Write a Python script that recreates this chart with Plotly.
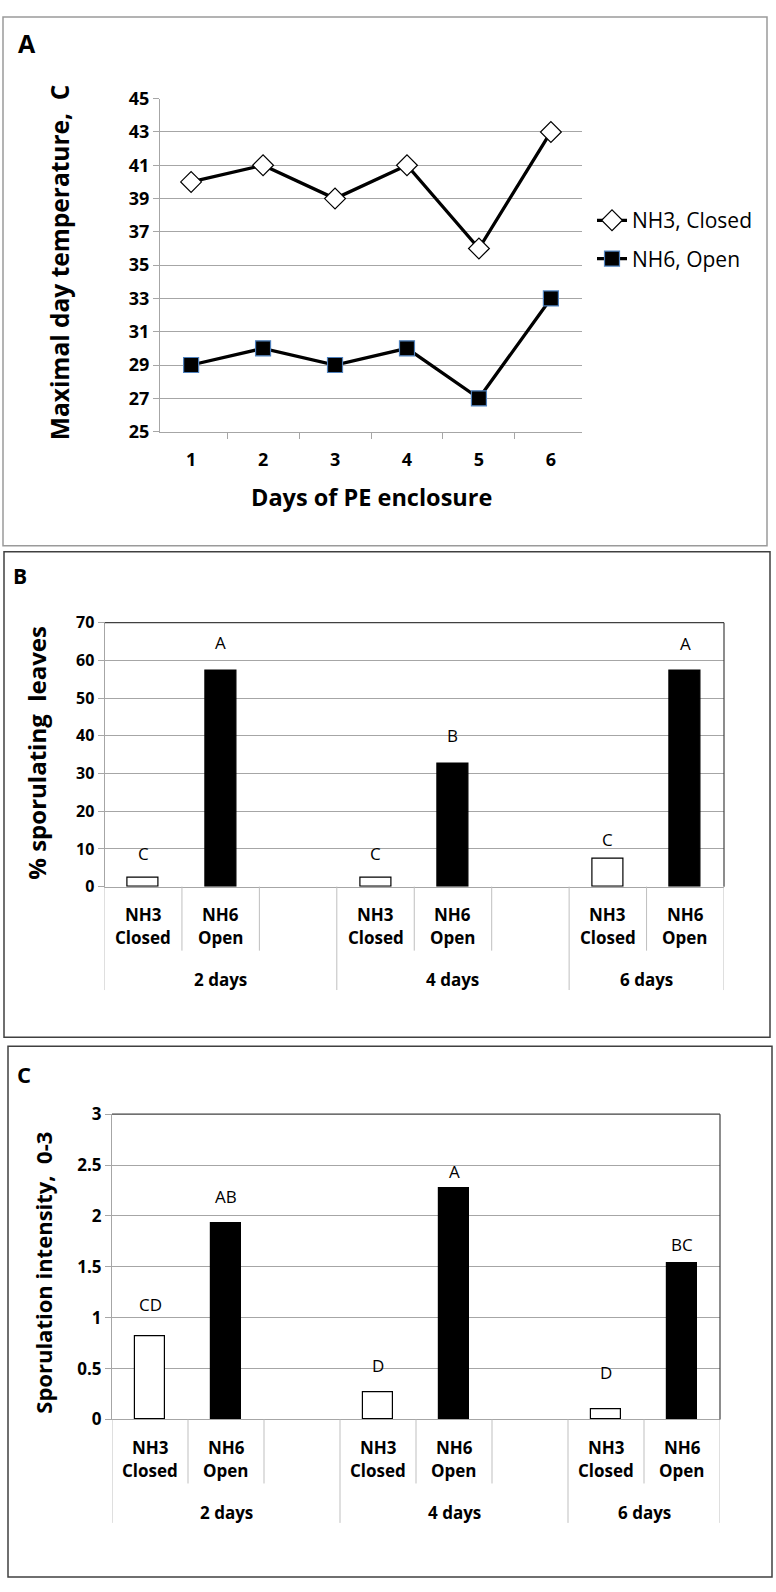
import plotly.graph_objects as go

# ---- data -------------------------------------------------------------
days = ["1", "2", "3", "4", "5", "6"]
temp_closed = [40, 41, 39, 41, 36, 43]
temp_open = [29, 30, 29, 30, 27, 33]

groups = ["2 days", "4 days", "6 days"]
treat_top = ["NH3", "NH6"]
treat_bottom = ["Closed", "Open"]

pct_closed = [2.3, 2.3, 7.3]
pct_open = [57.4, 32.6, 57.4]
pct_letters_closed = ["C", "C", "C"]
pct_letters_open = ["A", "B", "A"]

int_closed = [0.82, 0.27, 0.10]
int_open = [1.93, 2.27, 1.54]
int_letters_closed = ["CD", "D", "D"]
int_letters_open = ["AB", "A", "BC"]

# ---- layout helpers (pixel based, figure is 776 x 1592) ----------------
W, H = 776, 1592
FONT = "Open Sans"
GRID = "#a6a6a6"


def px(x):
    return x / W


def py(y):
    return 1 - y / H


fig = go.Figure()

# panel A : line chart
fig.add_trace(go.Scatter(x=days, y=temp_closed, name="NH3, Closed",
                         mode="lines+markers", legendgroup="a",
                         line=dict(color="black", width=3.3),
                         marker=dict(symbol="diamond", size=16, color="white",
                                     line=dict(color="black", width=1.2)),
                         xaxis="x", yaxis="y"))
fig.add_trace(go.Scatter(x=days, y=temp_open, name="NH6, Open",
                         mode="lines+markers", legendgroup="b",
                         line=dict(color="black", width=3.3),
                         marker=dict(symbol="square", size=15, color="black",
                                     line=dict(color="#4f81bd", width=1.2)),
                         xaxis="x", yaxis="y"))

# bar panels: categories 0..7, gaps at 2 and 5
pos_closed = [3 * i for i in range(len(groups))]
pos_open = [3 * i + 1 for i in range(len(groups))]

for xa, ya, vc, vo in [("x2", "y2", pct_closed, pct_open),
                       ("x3", "y3", int_closed, int_open)]:
    fig.add_trace(go.Bar(x=pos_closed, y=vc, width=0.4, showlegend=False,
                         marker=dict(color="white", line=dict(color="black", width=1.2)),
                         xaxis=xa, yaxis=ya))
    fig.add_trace(go.Bar(x=pos_open, y=vo, width=0.4, showlegend=False,
                         marker=dict(color="black", line=dict(color="black", width=1.2)),
                         xaxis=xa, yaxis=ya))


def tfont(size):
    return dict(family=FONT, size=size, color="black", weight="bold")


yax = dict(ticks="outside", ticklen=6, tickcolor=GRID, showline=True,
           linecolor=GRID, gridcolor=GRID, gridwidth=1.2, zeroline=False)

fig.update_layout(
    width=W, height=H, margin=dict(l=0, r=0, t=0, b=0),
    paper_bgcolor="white", plot_bgcolor="white",
    font=dict(family=FONT, color="black"),
    bargap=0,
    legend=dict(x=px(592), y=py(190), xanchor="left", yanchor="top",
                font=dict(family=FONT, size=21), tracegroupgap=8,
                traceorder="grouped", bgcolor="rgba(0,0,0,0)"),
    xaxis=dict(domain=[px(160), px(582)], type="category", tickson="boundaries",
               ticks="outside", ticklen=6, tickcolor=GRID, showline=True,
               linecolor=GRID, showgrid=False, tickfont=tfont(18),
               ticklabelstandoff=12, anchor="y"),
    yaxis=dict(domain=[py(425), py(87)], range=[25, 45], tick0=25, dtick=2,
               tickfont=tfont(18), anchor="x", **yax),
    xaxis2=dict(domain=[px(104.5), px(724)], range=[-0.5, 7.5], showticklabels=False,
                showgrid=False, zeroline=False, showline=True, linecolor=GRID,
                anchor="y2"),
    yaxis2=dict(domain=[py(887), py(619)], range=[0, 70], dtick=10,
                tickfont=tfont(16), anchor="x2", **yax),
    xaxis3=dict(domain=[px(112), px(720)], range=[-0.5, 7.5], showticklabels=False,
                showgrid=False, zeroline=False, showline=True, linecolor=GRID,
                anchor="y3"),
    yaxis3=dict(domain=[py(1428), py(1118)], range=[0, 3], dtick=0.5,
                tickfont=tfont(17), anchor="x3", **yax),
)

shapes = []
annots = []

# panel frames
for x0, y0, x1, y1, col in [(3, 4, 767, 541, "#9a9a9a"),
                            (4, 547, 770, 1040, "#404040"),
                            (8, 1049, 772, 1588, "#404040")]:
    shapes.append(dict(type="rect", xref="paper", yref="paper",
                       x0=px(x0), x1=px(x1), y0=py(y0), y1=py(y1),
                       line=dict(color=col, width=1.5)))

# panel letters
for letter, x, y, size in [("A", 16, 30, 25), ("B", 11, 572, 21), ("C", 15, 1077, 22)]:
    annots.append(dict(text="<b>%s</b>" % letter, x=px(x), y=py(y), xref="paper",
                       yref="paper", xanchor="left", yanchor="middle",
                       showarrow=False, font=dict(size=size)))

# axis titles
for text, x, y, ang, size in [("Maximal day temperature,  C", 59, 253, -90, 24.5),
                              ("Days of PE enclosure", 371, 491, 0, 23.5),
                              ("% sporulating  leaves", 37, 751, -90, 24),
                              ("Sporulation intensity,  0-3", 43, 1279, -90, 22)]:
    annots.append(dict(text="<b>%s</b>" % text, x=px(x), y=py(y), xref="paper",
                       yref="paper", xanchor="center", yanchor="middle",
                       textangle=ang, showarrow=False, font=dict(size=size)))

# bar panels: top/right frame, separators, category labels, letters
panels = [("x2", "y2", 104.5, 724, 619, 887, pct_closed, pct_open,
           pct_letters_closed, pct_letters_open, [24, 24, 20], [28, 28, 27]),
          ("x3", "y3", 112, 720, 1118, 1428, int_closed, int_open,
           int_letters_closed, int_letters_open, [32, 26, 37], [27, 17, 18])]

for (xa, ya, left, right, top, base, vc, vo, lc, lo, sc, so) in panels:
    shapes.append(dict(type="line", xref="paper", yref="paper", x0=px(left), x1=px(right),
                       y0=py(top), y1=py(top), line=dict(color="#404040", width=1.2)))
    shapes.append(dict(type="line", xref="paper", yref="paper", x0=px(right), x1=px(right),
                       y0=py(top), y1=py(base), line=dict(color="#404040", width=1.2)))
    long_b = [-0.5, 2.5, 5.5, 7.5]
    short_b = [0.5, 1.5, 3.5, 4.5, 6.5]
    for b in long_b:
        shapes.append(dict(type="line", xref=xa, yref="paper", x0=b, x1=b,
                           y0=py(base), y1=py(base + 105), line=dict(color="#bfbfbf", width=1)))
    for b in short_b:
        shapes.append(dict(type="line", xref=xa, yref="paper", x0=b, x1=b,
                           y0=py(base), y1=py(base + 65), line=dict(color="#bfbfbf", width=1)))
    for i, g in enumerate(groups):
        for j, pos in enumerate([pos_closed[i], pos_open[i]]):
            annots.append(dict(text="<b>%s</b>" % treat_top[j], x=pos, y=py(base + 28),
                               xref=xa, yref="paper", showarrow=False,
                               xanchor="center", yanchor="middle", font=dict(size=17)))
            annots.append(dict(text="<b>%s</b>" % treat_bottom[j], x=pos, y=py(base + 52),
                               xref=xa, yref="paper", showarrow=False,
                               xanchor="center", yanchor="middle", font=dict(size=17)))
        g0, g1 = long_b[i], long_b[i + 1]
        annots.append(dict(text="<b>%s</b>" % g, x=(g0 + g1) / 2, y=py(base + 94),
                           xref=xa, yref="paper", showarrow=False,
                           xanchor="center", yanchor="middle", font=dict(size=17)))
        annots.append(dict(text=lc[i], x=pos_closed[i], y=vc[i], xref=xa, yref=ya,
                           yshift=sc[i], showarrow=False, yanchor="middle",
                           font=dict(size=17)))
        annots.append(dict(text=lo[i], x=pos_open[i], y=vo[i], xref=xa, yref=ya,
                           yshift=so[i], showarrow=False, yanchor="middle",
                           font=dict(size=17)))

fig.update_layout(shapes=shapes, annotations=annots)

# page body has a default 8px margin; drop it so the figure fills the window
fig.write_html("out.html", config={"displayModeBar": False},
               post_script="document.body.style.margin='0';")
